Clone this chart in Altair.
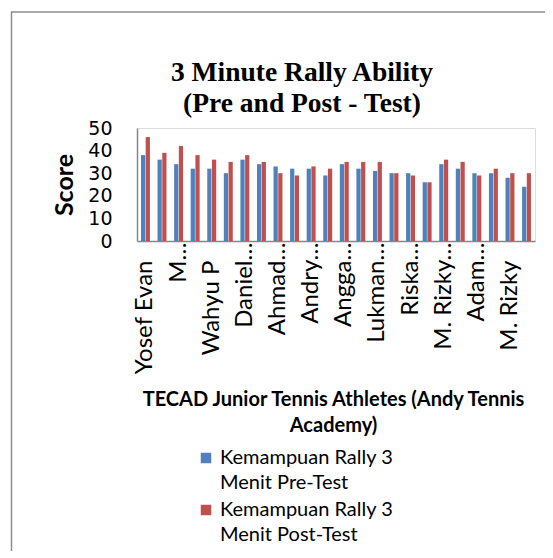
import altair as alt
import pandas as pd

# ---- data ----
athlete_no = list(range(1, 25))
tick_labels = ["Yosef Evan", "", "M…", "", "Wahyu P", "", "Daniel…", "", "Ahmad…", "",
               "Andry…", "", "Angga…", "", "Lukman…", "", "Riska…", "", "M. Rizky…", "",
               "Adam…", "", "M. Rizky", ""]
pre_test = [38, 36, 34, 32, 32, 30, 36, 34, 33, 32, 32, 29,
            34, 32, 31, 30, 30, 26, 34, 32, 30, 30, 28, 24]
post_test = [46, 39, 42, 38, 36, 35, 38, 35, 30, 29, 33, 32,
             35, 35, 35, 30, 29, 26, 36, 35, 29, 32, 30, 30]
series_names = ["Kemampuan Rally 3 Menit Pre-Test", "Kemampuan Rally 3 Menit Post-Test"]
series_colors = ["#4F81BD", "#C0504D"]
y_ticks = [0, 10, 20, 30, 40, 50]

rows = []
for i, n in enumerate(athlete_no):
    rows.append({"no": n, "series": series_names[0], "score": pre_test[i]})
    rows.append({"no": n, "series": series_names[1], "score": post_test[i]})
df = pd.DataFrame(rows)

label_js = "[" + ",".join("'" + l + "'" for l in tick_labels) + "][datum.value - 1]"
truncated = [n for n, l in zip(athlete_no, tick_labels) if l.endswith("…")]
trunc_js = "indexof([" + ",".join(str(t) for t in truncated) + "], datum.value) >= 0"

FONT = "Lato"

bars = alt.Chart(df).mark_bar().encode(
    x=alt.X(
        "no:O",
        scale=alt.Scale(paddingInner=0.46, paddingOuter=0.24),
        axis=alt.Axis(
            labelAngle=-90,
            labelFont=FONT,
            labelFontSize=24,
            labelColor="black",
            labelExpr=label_js,
            labelOverlap=False,
            labelPadding={"condition": {"test": trunc_js, "value": 1}, "value": 19},
            ticks=False,
            tickSize=0,
            domainColor="#868686",
            domainWidth=1.5,
            title=["TECAD Junior Tennis Athletes (Andy Tennis", "Academy)"],
            titleFont=FONT,
            titleFontSize=20,
            titleFontWeight="bold",
            titleColor="black",
            titleLineHeight=26,
            titleX=196,
            titleY=164,
            titleBaseline="alphabetic",
        ),
    ),
    xOffset=alt.XOffset("series:N", sort=series_names, scale=alt.Scale(paddingInner=0.1)),
    y=alt.Y(
        "score:Q",
        scale=alt.Scale(domain=[0, 50], nice=False),
        axis=alt.Axis(
            values=y_ticks,
            labelFont="DejaVu Sans",
            labelFontSize=19,
            labelColor="black",
            labelPadding=25,
            ticks=False,
            tickSize=0,
            grid=False,
            domainColor="#868686",
            domainWidth=1.5,
            title="Score",
            titleFont=FONT,
            titleFontSize=25,
            titleFontWeight="bold",
            titleColor="black",
            titleX=-73,
            titleY=56.5,
            titleAlign="center",
            titleBaseline="middle",
        ),
    ),
    color=alt.Color(
        "series:N",
        sort=series_names,
        scale=alt.Scale(domain=series_names, range=series_colors),
        legend=alt.Legend(
            orient="none",
            legendX=59,
            legendY=320,
            title=None,
            padding=0,
            labelFont=FONT,
            labelFontSize=20,
            labelColor="black",
            labelLimit=400,
            symbolType="square",
            symbolSize=110,
            symbolStrokeWidth=0,
            rowPadding=7,
            labelExpr="[slice(datum.label, 0, 17), slice(datum.label, 18)]",
        ),
    ),
)

frame = alt.Chart(pd.DataFrame({"f": [0]})).mark_rect(
    fillOpacity=0, stroke="#8e8e8e", strokeWidth=1.5
).encode(
    x=alt.value(-125.5), x2=alt.value(430), y=alt.value(-116), y2=alt.value(440)
)

chart = alt.layer(frame, bars).properties(
    width=398,
    height=113,
    autosize=alt.AutoSizeParams(type="none"),
    padding={"left": 129, "top": 120, "right": 10, "bottom": 310},
    title=alt.TitleParams(
        text=["3 Minute Rally Ability", "(Pre and Post - Test)"],
        font="Liberation Serif",
        fontSize=27.5,
        fontWeight="bold",
        color="black",
        lineHeight=31,
        anchor="middle",
        frame="group",
        dx=-34,
        baseline="bottom",
        offset=-134,
    ),
).configure_view(strokeWidth=0).configure(
    background="white", style={"guide-label": {"lineHeight": 25}}
)

chart.save("out.html", embed_options={"renderer": "svg", "actions": False})
